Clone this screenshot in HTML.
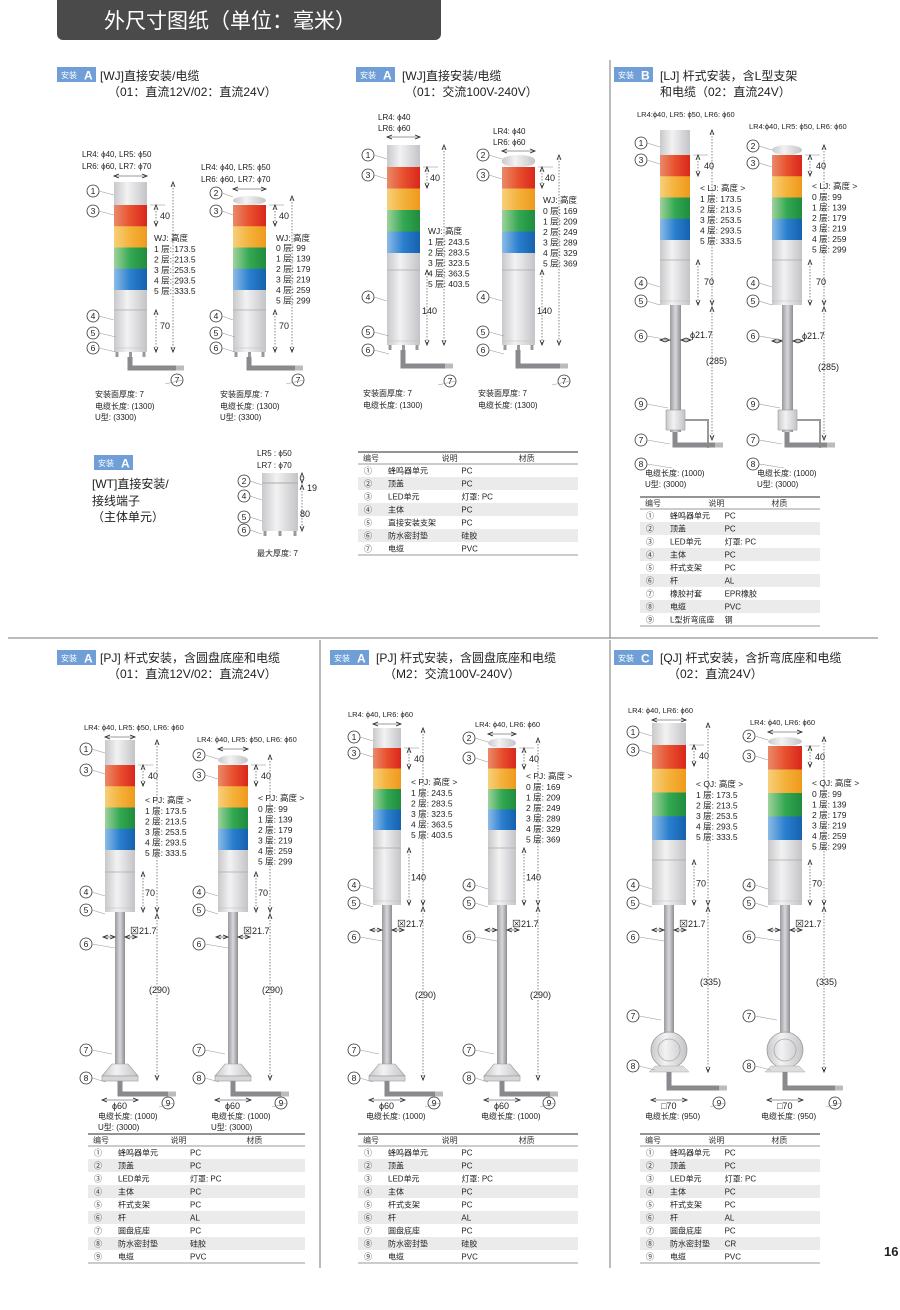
<!DOCTYPE html>
<html><head><meta charset="utf-8"><style>
html,body{margin:0;padding:0;background:#fff;}
svg{display:block;font-family:"Liberation Sans","Noto Sans CJK SC",sans-serif;}
</style></head><body>
<svg id="s" width="900" height="1310" viewBox="0 0 900 1310" xmlns="http://www.w3.org/2000/svg">
<defs>
<linearGradient id="gGray" x1="0" x2="1"><stop offset="0" stop-color="#c9c9cc"/><stop offset="0.4" stop-color="#f2f2f3"/><stop offset="1" stop-color="#c4c4c8"/></linearGradient>
<linearGradient id="gRed" x1="0" x2="1"><stop offset="0" stop-color="#e98a6a"/><stop offset="0.5" stop-color="#e8502e"/><stop offset="1" stop-color="#d9261c"/></linearGradient>
<linearGradient id="gOrg" x1="0" x2="1"><stop offset="0" stop-color="#f6d07a"/><stop offset="0.5" stop-color="#f4b13a"/><stop offset="1" stop-color="#ee9a1c"/></linearGradient>
<linearGradient id="gGrn" x1="0" x2="1"><stop offset="0" stop-color="#9fd29c"/><stop offset="0.5" stop-color="#33a852"/><stop offset="1" stop-color="#1f8c3e"/></linearGradient>
<linearGradient id="gBlu" x1="0" x2="1"><stop offset="0" stop-color="#8dbbe6"/><stop offset="0.5" stop-color="#2a7fcf"/><stop offset="1" stop-color="#1561ad"/></linearGradient>
<linearGradient id="gPole" x1="0" x2="1"><stop offset="0" stop-color="#9a9a9e"/><stop offset="0.5" stop-color="#d8d8dc"/><stop offset="1" stop-color="#8d8d92"/></linearGradient>
</defs>
<g>
<rect x="57" y="-6" width="384" height="46" rx="6" fill="#4a4a4a"/>
<text x="104" y="28" font-size="21" fill="#fff">外尺寸图纸（单位：毫米）</text>
</g>
<g stroke="#777" stroke-width="1">
<line x1="610" y1="60" x2="610" y2="638"/>
<line x1="8" y1="638" x2="878" y2="638"/>
<line x1="320" y1="640" x2="320" y2="1268"/>
<line x1="610" y1="640" x2="610" y2="1268"/>
</g>
<text x="884" y="1256" font-size="13" font-weight="bold" fill="#222">16</text>
<g id="dyn"></g>
</svg>
<script>
const NS='http://www.w3.org/2000/svg';
const root=document.getElementById('dyn');
function el(tag,attrs,parent,txt){const e=document.createElementNS(NS,tag);for(const k in attrs)e.setAttribute(k,attrs[k]);if(txt!==undefined)e.textContent=txt;(parent||root).appendChild(e);return e;}
function T(x,y,s,size,name,opt){const e=el('text',Object.assign({x:x,y:y,'font-size':size||8.5,fill:'#222'},opt||{}),null,s);

return e;}
const circ=['','1','2','3','4','5','6','7','8','9'];
function num(n,x,y,tx){const g=el('g',{});


el('circle',{cx:x,cy:y,r:6,fill:'#fff',stroke:'#333','stroke-width':0.8},g);
el('text',{x:x,y:y+3.2,'font-size':8.5,'text-anchor':'middle',fill:'#222'},g,circ[n]);
if(tx!==undefined)el('line',{x1:x+6,y1:y,x2:tx,y2:y+4,stroke:'#999','stroke-width':0.6},g);}
function badge(x,y,letter){const g=el('g',{});


el('rect',{x:x,y:y,width:39,height:15,fill:'#6f9fd6'},g);
el('text',{x:x+4,y:y+11,'font-size':8,fill:'#fff'},g,'安装');
el('text',{x:x+27,y:y+12.5,'font-size':12,fill:'#fff','font-weight':'bold'},g,letter);}
const tierFills=['url(#gRed)','url(#gOrg)','url(#gGrn)','url(#gBlu)'];
function vdim(x,y1,y2){el('line',{x1:x,y1:y1,x2:x,y2:y2,stroke:'#333','stroke-width':0.6,'stroke-dasharray':'1.5,1.5'});
el('path',{d:`M${x-2},${y1+5}L${x},${y1}L${x+2},${y1+5}M${x-2},${y2-5}L${x},${y2}L${x+2},${y2-5}`,fill:'none',stroke:'#222','stroke-width':0.8});}
function hdim(x1,x2,y){el('line',{x1:x1,y1:y,x2:x2,y2:y,stroke:'#333','stroke-width':0.6});
el('path',{d:`M${x1+5},${y-2}L${x1},${y}L${x1+5},${y+2}M${x2-5},${y-2}L${x2},${y}L${x2-5},${y+2}`,fill:'none',stroke:'#222','stroke-width':0.8});}
function tower(o){const g=el('g',{});


const {x,w}=o;
if(o.dome){el('rect',{x:x,y:o.top,width:w,height:o.led-o.top,rx:w/2,ry:5,fill:'url(#gGray)'},g);}
else el('rect',{x:x,y:o.top,width:w,height:o.led-o.top,fill:'url(#gGray)'},g);
const th=(o.ledEnd-o.led)/4;
for(let i=0;i<4;i++){el('rect',{x:x,y:o.led+i*th,width:w,height:th+0.3,fill:tierFills[i]},g);}
el('rect',{x:x,y:o.ledEnd,width:w,height:o.bodyEnd-o.ledEnd,fill:'url(#gGray)'},g);
el('line',{x1:x,y1:o.spacerEnd,x2:x+w,y2:o.spacerEnd,stroke:'#aaa','stroke-width':0.8},g);
el('line',{x1:x,y1:o.bodyEnd-4,x2:x+w,y2:o.bodyEnd-4,stroke:'#bbb','stroke-width':0.6},g);
el('line',{x1:x+w+3,y1:o.led,x2:x+w+18,y2:o.led,stroke:'#888','stroke-width':0.5},g);
return g;}
function pole(x,y1,y2,w){el('rect',{x:x,y:y1,width:w,height:y2-y1,fill:'url(#gPole)'});}
function cableL(x,y1,y2,x2){el('path',{d:`M${x},${y1}L${x},${y2}L${x2},${y2}`,fill:'none',stroke:'#8a8a8e','stroke-width':5});
el('rect',{x:x2,y:y2-2.5,width:8,height:5,fill:'#bbb'});}
function bolts(x,w,y){[x+3,x+w/2,x+w-3].forEach(bx=>{el('rect',{x:bx-1.5,y:y,width:3,height:5,fill:'#999'});});}
function lines(x,y0,step,arr,name){arr.forEach((s,i)=>T(x,y0+i*step,s,8.5,name));}
const t1h=['1 层: 173.5','2 层: 213.5','3 层: 253.5','4 层: 293.5','5 层: 333.5'];
const t0h=['0 层: 99','1 层: 139','2 层: 179','3 层: 219','4 层: 259','5 层: 299'];
const a1h=['1 层: 243.5','2 层: 283.5','3 层: 323.5','4 层: 363.5','5 层: 403.5'];
const a0h=['0 层: 169','1 层: 209','2 层: 249','3 层: 289','4 层: 329','5 层: 369'];

badge(57,67,'A');
T(100,80,'[WJ]直接安装/电缆',12,'section-title');
T(108,96,'（01：直流12V/02：直流24V）',12,'section-subtitle');
function wj(x,top,dome,lx,hx,heads,htop,n7x,below){
 tower({x:x,w:33,top:top,led:205,ledEnd:290,spacerEnd:310,bodyEnd:352,dome:dome});
 bolts(x,33,352);cableL(x+16,357,368,x+62);
 T(x-32,heads[2],'LR4: ϕ40, LR5: ϕ50',8,'diameter-label');T(x-32,heads[2]+12,'LR6: ϕ60, LR7: ϕ70',8,'diameter-label');
 hdim(x,x+33,heads[2]+19);
 vdim(x+42,205,226);T(x+46,219,'40',9,'dim-40');
 vdim(x+42,310,352);T(x+46,329,'70',9,'dim-70');
 vdim(x+59,top,352);
 T(hx,241,'WJ: 高度',8.5,'height-title');lines(hx,htop,10.5,heads[3],'height-row');
 num(heads[0],lx,heads[1],x);num(3,lx,211,x);num(4,lx,316,x);num(5,lx,333,x+2);num(6,lx,348,x+2);
 num(7,n7x,380,n7x-12);
 T(below,397,'安装面厚度: 7',8,'mount-thickness');T(below,409,'电缆长度: (1300)',8,'cable-length');T(below,420,'U型: (3300)',8,'u-type-length');
}
wj(114,182,false,93,154,[1,191,157,t1h],252,177,95);
wj(233,196,true,216,276,[2,193,170,t0h],251,298,220);
badge(94,455,'A');
T(92,488,'[WT]直接安装/',12,'section-title');T(92,505,'接线端子',12,'section-title');T(92,521,'（主体单元）',12,'section-subtitle');
el('rect',{x:262,y:473,width:36,height:58,fill:'url(#gGray)'});
el('line',{x1:262,y1:483,x2:298,y2:483,stroke:'#aaa'});
bolts(262,36,531);
T(257,456,'LR5 : ϕ50',8,'diameter-label');T(257,468,'LR7 : ϕ70',8,'diameter-label');
vdim(302,473,483);vdim(302,485,531);T(307,491,'19',9,'dim-19');T(300,517,'80',9,'dim-80');
T(257,556,'最大厚度: 7',8,'max-thickness');
num(2,244,481,262);num(4,244,496,262);num(5,244,517,262);num(6,244,530,262);

badge(356,67,'A');
T(402,80,'[WJ]直接安装/电缆',12,'section-title');
T(405,96,'（01：交流100V-240V）',12,'section-subtitle');
function wja(x,top,dome,n1,tx,ht,hy,hs,n7x){
 tower({x:x,w:33,top:top,led:167,ledEnd:253,spacerEnd:270,bodyEnd:345,dome:dome});
 bolts(x,33,345);cableL(x+16,350,366,x+58);
 T(x-9,tx,'LR4: ϕ40',8,'diameter-label');T(x-9,tx+11,'LR6: ϕ60',8,'diameter-label');
 hdim(x,x+33,tx+17);
 vdim(x+40,167,188);T(x+43,181,'40',9,'dim-40');
 vdim(x+40,270,345);T(x+35,314,'140',9,'dim-140');
 vdim(x+57,top,345);
 T(x+41,hy,'WJ: 高度',8.5,'height-title');lines(x+41,hy+11,10.5,hs,'height-row');
 num(n1,x-19,155,x);num(3,x-19,175,x);num(4,x-19,297,x);num(5,x-19,332,x+2);num(6,x-19,350,x+2);num(7,n7x,381,n7x-12);
 T(x-24,396,'安装面厚度: 7',8,'mount-thickness');T(x-24,408,'电缆长度: (1300)',8,'cable-length');
}
wja(387,145,false,1,120,0,234,a1h,450);
wja(502,155,true,2,134,0,203,a0h,564);
function table(x,y,w,rows){const g=el('g',{});


const c2=x+w*0.47,rh=13;
el('line',{x1:x,y1:y,x2:x+w,y2:y,stroke:'#555','stroke-width':1.2},g);
el('text',{x:x+5,y:y+9,'font-size':8,fill:'#333'},g,'编号');
el('text',{x:x+w*0.38,y:y+9,'font-size':8,fill:'#333'},g,'说明');
el('text',{x:x+w*0.73,y:y+9,'font-size':8,fill:'#333'},g,'材质');
el('line',{x1:x,y1:y+12,x2:x+w,y2:y+12,stroke:'#777','stroke-width':0.8},g);
rows.forEach((r,i)=>{const ry=y+12+i*rh;
 if(i%2==1)el('rect',{x:x,y:ry,width:w,height:rh,fill:'#ebebeb'},g);
 el('text',{x:x+6,y:ry+9.5,'font-size':8,fill:'#333'},g,'①②③④⑤⑥⑦⑧⑨'[r[0]-1]);
 el('text',{x:x+30,y:ry+9.5,'font-size':8,fill:'#222'},g,r[1]);
 el('text',{x:c2,y:ry+9.5,'font-size':8,fill:'#222'},g,r[2]);});
el('line',{x1:x,y1:y+12+rows.length*rh,x2:x+w,y2:y+12+rows.length*rh,stroke:'#777','stroke-width':0.8},g);}
table(358,452,220,[[1,'蜂鸣器单元','PC'],[2,'顶盖','PC'],[3,'LED单元','灯罩: PC'],[4,'主体','PC'],[5,'直接安装支架','PC'],[6,'防水密封垫','硅胶'],[7,'电缆','PVC']]);

badge(614,67,'B');
T(660,80,'[LJ] 杆式安装，含L型支架',12,'section-title');
T(660,96,'和电缆（02：直流24V）',12,'section-subtitle');
function lj(x,top,dome,n1,n1y,tx,tl,hy,hs,off){
 tower({x:x,w:30,top:top,led:155,ledEnd:240,spacerEnd:260,bodyEnd:305,dome:dome});
 pole(x+10,305,432,11);
 el('rect',{x:x+6,y:410,width:19,height:20,fill:'url(#gGray)',stroke:'#999','stroke-width':0.6});
 el('path',{d:`M${x+25},${420}L${x+48},${420}L${x+48},${448}`,fill:'none',stroke:'#999','stroke-width':2});
 cableL(x+15,432,445,x+55);
 T(x-23,tx,'LR4:ϕ40, LR5: ϕ50, LR6: ϕ60',7.5,'diameter-label');
 vdim(x+38,155,176);T(x+44,169,'40',9,'dim-40');
 vdim(x+38,260,305);T(x+44,285,'70',9,'dim-70');
 vdim(x+52,top,305);vdim(x+52,307,440);
 hdim(x,x+10,off);hdim(x+21,x+31,off);T(x+30,off-2,'ϕ21.7',9,'pole-diameter');
 T(x+46,368+(x>700?2:-4),'(285)',9,'pole-length');
 T(x+40,hy,'< LJ: 高度 >',8.5,'height-title');lines(x+40,hy+11,10.5,hs,'height-row');
 num(n1,x-19,n1y,x);num(3,x-19,n1y+17,x);num(4,x-19,283,x);num(5,x-19,301,x);num(6,x-19,336,x+10);num(9,x-19,404,x+8);num(7,x-19,440,x+10);num(8,x-19,464,x+12);
 T(x-15,476,'电缆长度: (1000)',8,'cable-length');T(x-15,487,'U型: (3000)',8,'u-type-length');
}
lj(660,130,false,1,143,117,0,191,t1h,340);
lj(772,145,true,2,146,129,0,189,t0h,341);
table(640,497,180,[[1,'蜂鸣器单元','PC'],[2,'顶盖','PC'],[3,'LED单元','灯罩: PC'],[4,'主体','PC'],[5,'杆式支架','PC'],[6,'杆','AL'],[7,'橡胶衬套','EPR橡胶'],[8,'电缆','PVC'],[9,'L型折弯底座','钢']]);

function pjTower(x,w,top,dome,led,ledEnd,spacerEnd,bodyEnd,poleEnd,kind){
 tower({x:x,w:w,top:top,led:led,ledEnd:ledEnd,spacerEnd:spacerEnd,bodyEnd:bodyEnd,dome:dome});
 const pc=x+w/2;
 pole(pc-5,bodyEnd,poleEnd,10);
 if(kind==='disc'){el('path',{d:`M${pc-8},${poleEnd-8}L${pc+8},${poleEnd-8}L${pc+18},${poleEnd+4}L${pc-18},${poleEnd+4}Z`,fill:'url(#gGray)',stroke:'#999','stroke-width':0.6});
  el('rect',{x:pc-18,y:poleEnd+4,width:36,height:5,fill:'#d6d6da',stroke:'#999','stroke-width':0.6});
  cableL(pc,poleEnd+9,poleEnd+22,pc+48);}
 else{el('circle',{cx:pc,cy:poleEnd+12,r:18,fill:'url(#gGray)',stroke:'#999','stroke-width':0.8});
  el('circle',{cx:pc,cy:poleEnd+12,r:11,fill:'none',stroke:'#aaa','stroke-width':0.8});
  el('path',{d:`M${pc-20},${poleEnd+34}L${pc+20},${poleEnd+34}L${pc+14},${poleEnd+28}L${pc-14},${poleEnd+28}Z`,fill:'#ddd',stroke:'#aaa','stroke-width':0.5});
  cableL(pc,poleEnd+34,poleEnd+50,pc+50);}
}
function bottom(o){
 pjTower(o.x,o.w,o.top,o.dome,o.led,o.ledEnd,o.sp,o.be,o.pe,o.kind);
 const x=o.x,w=o.w;
 T(x-21+o.tdx,o.ty,o.tt,7.5,'diameter-label');hdim(x,x+w,o.ty+7);
 vdim(x+w+8,o.led,o.led+21);T(x+w+13,o.led+14,'40',9,'dim-40');
 vdim(x+w+8,o.sp,o.be);T(x+w+10,(o.sp+o.be)/2+4,o.mid,9,'dim-body');
 vdim(x+w+22,o.top,o.be);vdim(x+w+22,o.be+2,o.pe+(o.kind==='disc'?8:34));
 hdim(x+w/2-17,x+w/2-5,o.be+25);hdim(x+w/2+5,x+w/2+17,o.be+25);T(x+w/2+10,o.be+22,o.pd,9,'pole-size');
 T(x+w+14,o.pl,o.plt,9,'pole-length');
 T(x+w+10,o.hy,o.ht,8.5,'height-title');lines(x+w+10,o.hy+11,10.5,o.hs,'height-row');
 const lx=x-19;
 const n1y=o.dome?o.led-10:o.top+9;
 num(o.n1,lx,n1y,x);num(3,lx,o.led+(o.dome?10:5),x);num(4,lx,o.be-20,x);num(5,lx,o.be-2,x);num(6,lx,o.be+32,x+w/2-5);num(7,lx,o.pe-22,x+w/2-8);num(8,lx,o.pe+(o.kind==='disc'?6:28),x+w/2-14);num(9,x+w+33,1103,x+w+24);
 hdim(x+w/2-18,x+w/2+18,1100);
 T(x+w/2-8,1109,o.bs,9,'base-size');
 T(x-7,1119,o.cl,8,'cable-length');if(o.ul)T(x-7,1130,o.ul,8,'u-type-length');
}
badge(57,650,'A');T(100,662,'[PJ] 杆式安装，含圆盘底座和电缆',12,'section-title');T(108,678,'（01：直流12V/02：直流24V）',12,'section-subtitle');
bottom({x:105,w:30,top:740,dome:false,led:765,ledEnd:850,sp:872,be:912,pe:1072,kind:'disc',tdx:0,ty:730,tt:'LR4: ϕ40, LR5: ϕ50, LR6: ϕ60',mid:'70',pd:'⊠21.7',pl:993,plt:'(290)',hy:803,ht:'< PJ: 高度 >',hs:t1h,n1:1,bs:'ϕ60',cl:'电缆长度: (1000)',ul:'U型: (3000)'});
bottom({x:218,w:30,top:755,dome:true,led:765,ledEnd:850,sp:872,be:912,pe:1072,kind:'disc',tdx:0,ty:742,tt:'LR4: ϕ40, LR5: ϕ50, LR6: ϕ60',mid:'70',pd:'⊠21.7',pl:993,plt:'(290)',hy:801,ht:'< PJ: 高度 >',hs:t0h,n1:2,bs:'ϕ60',cl:'电缆长度: (1000)',ul:'U型: (3000)'});
table(88,1134,217,[[1,'蜂鸣器单元','PC'],[2,'顶盖','PC'],[3,'LED单元','灯罩: PC'],[4,'主体','PC'],[5,'杆式支架','PC'],[6,'杆','AL'],[7,'圆盘底座','PC'],[8,'防水密封垫','硅胶'],[9,'电缆','PVC']]);

badge(330,650,'A');T(376,662,'[PJ] 杆式安装，含圆盘底座和电缆',12,'section-title');T(384,678,'（M2：交流100V-240V）',12,'section-subtitle');
bottom({x:373,w:28,top:728,dome:false,led:748,ledEnd:830,sp:848,be:905,pe:1072,kind:'disc',tdx:-4,ty:717,tt:'LR4: ϕ40, LR6: ϕ60',mid:'140',pd:'⊠21.7',pl:998,plt:'(290)',hy:785,ht:'< PJ: 高度 >',hs:a1h,n1:1,bs:'ϕ60',cl:'电缆长度: (1000)'});
bottom({x:488,w:28,top:738,dome:true,led:748,ledEnd:830,sp:848,be:905,pe:1072,kind:'disc',tdx:8,ty:727,tt:'LR4: ϕ40, LR6: ϕ60',mid:'140',pd:'⊠21.7',pl:998,plt:'(290)',hy:779,ht:'< PJ: 高度 >',hs:a0h,n1:2,bs:'ϕ60',cl:'电缆长度: (1000)'});
table(358,1134,220,[[1,'蜂鸣器单元','PC'],[2,'顶盖','PC'],[3,'LED单元','灯罩: PC'],[4,'主体','PC'],[5,'杆式支架','PC'],[6,'杆','AL'],[7,'圆盘底座','PC'],[8,'防水密封垫','硅胶'],[9,'电缆','PVC']]);

badge(614,650,'C');T(660,662,'[QJ] 杆式安装，含折弯底座和电缆',12,'section-title');T(668,678,'（02：直流24V）',12,'section-subtitle');
bottom({x:652,w:34,top:723,dome:false,led:745,ledEnd:840,sp:860,be:905,pe:1038,kind:'bend',tdx:-3,ty:713,tt:'LR4: ϕ40, LR6: ϕ60',mid:'70',pd:'⊠21.7',pl:985,plt:'(335)',hy:787,ht:'< QJ: 高度 >',hs:t1h,n1:1,bs:'□70',cl:'电缆长度: (950)'});
bottom({x:768,w:34,top:737,dome:true,led:746,ledEnd:840,sp:860,be:905,pe:1038,kind:'bend',tdx:3,ty:725,tt:'LR4: ϕ40, LR6: ϕ60',mid:'70',pd:'⊠21.7',pl:985,plt:'(335)',hy:786,ht:'< QJ: 高度 >',hs:t0h,n1:2,bs:'□70',cl:'电缆长度: (950)'});
table(640,1134,180,[[1,'蜂鸣器单元','PC'],[2,'顶盖','PC'],[3,'LED单元','灯罩: PC'],[4,'主体','PC'],[5,'杆式支架','PC'],[6,'杆','AL'],[7,'圆盘底座','PC'],[8,'防水密封垫','CR'],[9,'电缆','PVC']]);
</script>
</body></html>
